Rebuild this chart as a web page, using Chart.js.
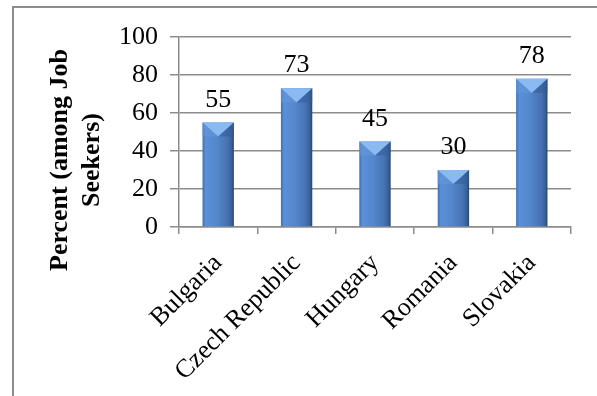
<!DOCTYPE html>
<html>
<head>
<meta charset="utf-8">
<script src="https://cdn.jsdelivr.net/npm/chart.js@4.4.1/dist/chart.umd.min.js"></script>
<style>
  html, body { margin: 0; padding: 0; background: #fff; }
  #wrap { position: relative; width: 597px; height: 396px; overflow: hidden; }
  #frame { position: absolute; left: 12px; top: 6px; width: 700px; height: 500px; border: 2px solid #8c8c8c; box-sizing: border-box; }
  canvas { position: absolute; left: 0; top: 0; }
</style>
</head>
<body>
<div id="wrap">
  <div id="frame"></div>
  <canvas id="myChart" width="597" height="396"></canvas>
</div>
<script>
// data
var countries = ["Bulgaria", "Czech Republic", "Hungary", "Romania", "Slovakia"];
var percent = [55, 73, 45, 30, 78];
var yTitle = ["Percent (among Job", "Seekers)"];

var serif = "'Liberation Serif', 'Times New Roman', serif";
var barPct = 0.4;

// bar fill: left-to-right shading like the office 3d bevel
function barFill(context) {
    var chart = context.chart;
    var xs = chart.scales.x;
    if (!xs || context.dataIndex === undefined) return "#4f81bd";
    var cx = xs.getPixelForValue(context.dataIndex);
    var w = (xs.width / countries.length) * barPct;
    if (!isFinite(cx) || !isFinite(w) || w <= 0) return "#4f81bd";
    var g = chart.ctx.createLinearGradient(cx - w / 2, 0, cx + w / 2, 0);
    g.addColorStop(0, "#3f6fb0");
    g.addColorStop(0.1, "#5a90d8");
    g.addColorStop(0.45, "#5487cc");
    g.addColorStop(0.8, "#4672b2");
    g.addColorStop(0.92, "#3a6299");
    g.addColorStop(1, "#28466f");
    return g;
}

// top chevron + value labels
var barDecor = {
    id: "barDecor",
    afterDatasetsDraw: function (chart) {
        var ctx = chart.ctx;
        var meta = chart.getDatasetMeta(0);
        ctx.save();
        meta.data.forEach(function (bar, i) {
            var w = bar.width;
            var l = bar.x - w / 2, r = bar.x + w / 2, t = bar.y;
            var d = w * 0.45;
            ctx.beginPath();
            ctx.moveTo(l, t);
            ctx.lineTo(r, t);
            ctx.lineTo(bar.x, t + d);
            ctx.closePath();
            ctx.fillStyle = "#8bb9f2";
            ctx.fill();
            ctx.beginPath();
            ctx.moveTo(l, t);
            ctx.lineTo(bar.x, t + d);
            ctx.lineTo(l, t + d);
            ctx.closePath();
            ctx.fillStyle = "rgba(100,150,215,0.6)";
            ctx.fill();
            ctx.beginPath();
            ctx.moveTo(r, t);
            ctx.lineTo(bar.x, t + d);
            ctx.lineTo(r, t + d);
            ctx.closePath();
            ctx.fillStyle = "rgba(50,90,150,0.5)";
            ctx.fill();

            ctx.fillStyle = "#000";
            ctx.font = "26px " + serif;
            ctx.textAlign = "center";
            ctx.textBaseline = "alphabetic";
            ctx.fillText(String(percent[i]), bar.x, t - 16);
        });
        ctx.restore();
    }
};

// y axis title, two lines rotated
var yTitlePlugin = {
    id: "yTitlePlugin",
    afterDraw: function (chart) {
        var ctx = chart.ctx;
        var area = chart.chartArea;
        ctx.save();
        ctx.translate(76, area.bottom - 67);
        ctx.rotate(-Math.PI / 2);
        ctx.font = "bold 26px " + serif;
        ctx.fillStyle = "#000";
        ctx.textAlign = "center";
        ctx.textBaseline = "middle";
        ctx.fillText(yTitle[0], 0, -16);
        ctx.fillText(yTitle[1], 0, 16);
        ctx.restore();
    }
};

var ctx = document.getElementById("myChart").getContext("2d");
var chart = new Chart(ctx, {
    type: "bar",
    data: {
        labels: countries,
        datasets: [
            {
                label: "Percent",
                data: percent,
                backgroundColor: barFill,
                borderWidth: 0,
                barPercentage: barPct,
                categoryPercentage: 1
            }
        ]
    },
    options: {
        responsive: false,
        animation: false,
        layout: { padding: { top: 37, right: 26, bottom: 0, left: 0 } },
        plugins: {
            legend: { display: false },
            tooltip: { enabled: false }
        },
        scales: {
            x: {
                grid: { drawOnChartArea: false, drawTicks: true, tickLength: 7, color: "#8c8c8c", lineWidth: 1.5 },
                border: { color: "#8c8c8c", width: 1.5 },
                ticks: {
                    color: "#000",
                    font: { family: serif, size: 26 },
                    maxRotation: 45,
                    minRotation: 45,
                    padding: 14
                },
                afterFit: function (scale) { scale.height = 169; }
            },
            y: {
                min: 0,
                max: 100,
                grid: { color: "#8c8c8c", lineWidth: 1.5, tickLength: 9 },
                border: { color: "#8c8c8c", width: 1.5 },
                ticks: {
                    stepSize: 20,
                    color: "#000",
                    font: { family: serif, size: 26 },
                    padding: 12
                },
                afterFit: function (scale) { scale.width = 179; }
            }
        }
    },
    plugins: [barDecor, yTitlePlugin]
});
</script>
</body>
</html>
